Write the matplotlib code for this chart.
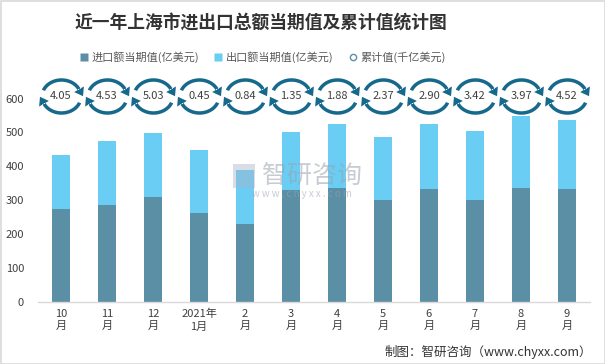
import numpy as np
import matplotlib
matplotlib.use("Agg")
import matplotlib.pyplot as plt
from matplotlib.path import Path
from matplotlib.lines import Line2D
from matplotlib.patches import Rectangle

plt.rcParams['font.family'] = ['Noto Sans CJK SC', 'DejaVu Sans']

# ---------------- data ----------------
categories = ["10\n月", "11\n月", "12\n月", "2021年\n1月", "2\n月", "3\n月",
              "4\n月", "5\n月", "6\n月", "7\n月", "8\n月", "9\n月"]
imports = [274, 286, 310, 262, 230, 330, 336, 301, 333, 301, 336, 333]
exports = [160, 189, 189, 186, 159, 171, 189, 187, 192, 203, 213, 204]
cumulative = [4.05, 4.53, 5.03, 0.45, 0.84, 1.35, 1.88, 2.37, 2.90, 3.42, 3.97, 4.52]
yticks = [0, 100, 200, 300, 400, 500, 600]

title = "近一年上海市进出口总额当期值及累计值统计图"
legend_labels = ["进口额当期值(亿美元)", "出口额当期值(亿美元)", "累计值(千亿美元)"]
footer = "制图：智研咨询（www.chyxx.com）"

# ---------------- style ----------------
C_IMP = "#5b8fa6"
C_EXP = "#69cdf4"
C_ICON = "#17698c"
C_TEXT = "#404040"

W, H = 605, 364
fig = plt.figure(figsize=(W / 100, H / 100), dpi=100)
ax = fig.add_axes([38 / W, (H - 302) / H, 552 / W, (302 - 78) / H])

x = np.arange(len(categories))
ax.bar(x, imports, width=0.39, color=C_IMP, zorder=2)
ax.bar(x, exports, width=0.39, bottom=imports, color=C_EXP, zorder=2)

ymax = (302 - 78) / 0.339
ax.set_xlim(-0.5, len(categories) - 0.5)
ax.set_ylim(0, ymax)
ax.set_yticks(yticks)
ax.set_xticks(x)
ax.set_xticklabels(categories, fontsize=8, color=C_TEXT, linespacing=1.3)
ax.tick_params(axis='both', length=0, labelsize=8, colors=C_TEXT)
ax.tick_params(axis='x', pad=5)
ax.tick_params(axis='y', pad=10)
for s in ['top', 'right', 'left']:
    ax.spines[s].set_visible(False)
ax.spines['bottom'].set_color('#d9d9d9')
ax.spines['bottom'].set_linewidth(1)

# ---------------- circular-arrow icon marker ----------------
def ring_icon():
    a, b, t = 19.5, 16.5, 3.5
    verts, codes = [], []

    def poly(pts):
        verts.extend(pts)
        codes.extend([Path.MOVETO] + [Path.LINETO] * (len(pts) - 2) + [Path.CLOSEPOLY])

    def arc(t0, t1):
        th = np.radians(np.linspace(t0, t1, 40))
        outer = [((a + t / 2) * np.cos(v), (b + t / 2) * np.sin(v)) for v in th]
        inner = [((a - t / 2) * np.cos(v), (b - t / 2) * np.sin(v)) for v in th[::-1]]
        pts = outer + inner
        pts.append(pts[0])
        poly(pts)

    def head(th_deg):
        v = np.radians(th_deg)
        cx, cy = a * np.cos(v), b * np.sin(v)
        d = np.array([a * np.sin(v), -b * np.cos(v)])
        d /= np.linalg.norm(d)
        n = np.array([-d[1], d[0]])
        hw, hl = 5.6, 8.0
        p1 = (cx + n[0] * hw, cy + n[1] * hw)
        p2 = (cx - n[0] * hw, cy - n[1] * hw)
        p3 = (cx + d[0] * hl, cy + d[1] * hl)
        poly([p1, p2, p3, p1])

    arc(158, 26)
    head(26)
    arc(-22, -154)
    head(-154)
    return Path(np.array(verts), codes)

icon = ring_icon()
maxabs = np.max(np.abs(icon.vertices))
ms = 2 * maxabs * 0.72

level = 607
ax.plot(x, [level] * len(x), ls='none', marker=icon, ms=ms,
        mfc=C_ICON, mec='none', zorder=3, clip_on=False)
for xi, v in zip(x, cumulative):
    ax.text(xi, level, f"{v:.2f}", ha='center', va='center', fontsize=8,
            color=C_TEXT, zorder=4)

# ---------------- watermark ----------------
fig.text(262 / W, 1 - 176 / H, "智研咨询", fontsize=18, color='#9aa3b0',
         alpha=0.55, ha='left', va='center', zorder=10)
fig.text(302 / W, 1 - 194 / H, "w w w . c h y x x . c o m", fontsize=7,
         color='#9aa3b0', alpha=0.55, ha='center', va='center', zorder=10)
fig.patches.append(Rectangle((233 / W, 1 - 188 / H), 22 / W, 24 / H,
                             transform=fig.transFigure, facecolor='#a8b6cc',
                             alpha=0.45, edgecolor='none', zorder=10))

# ---------------- title / legend / footer ----------------
fig.text(0.432, 1 - 24 / H, title, ha='center', va='center', fontsize=12.8,
         fontweight='bold', color='#333333')

handles = [
    Line2D([], [], ls='none', marker='s', ms=5.5, mfc=C_IMP, mec='none'),
    Line2D([], [], ls='none', marker='s', ms=5.5, mfc=C_EXP, mec='none'),
    Line2D([], [], ls='none', marker='o', ms=4.5, mfc='white', mec=C_IMP, mew=1),
]
fig.legend(handles, legend_labels, loc='center', bbox_to_anchor=(0.434, 1 - 57 / H),
           ncol=3, frameon=False, fontsize=8, labelcolor='#595959',
           handlelength=0.8, handletextpad=0.3, columnspacing=1.3)

fig.text(592 / W, 1 - 352 / H, footer, ha='right', va='center', fontsize=9,
         color='#333333')

fig.patches.append(Rectangle((0.5 / W, 0.5 / H), 1 - 1 / W, 1 - 1 / H,
                             transform=fig.transFigure, fill=False,
                             edgecolor='#d9d9d9', lw=1.2))

fig.savefig("out.png", dpi=100)
